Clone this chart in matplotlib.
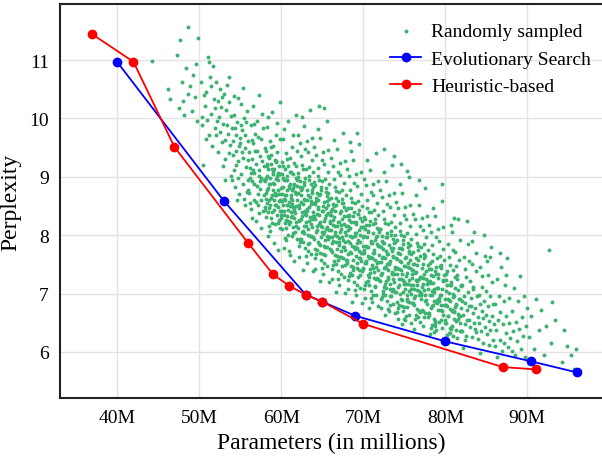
import numpy as np
import matplotlib
matplotlib.use("Agg")
import matplotlib.pyplot as plt

plt.rcParams['font.family'] = ['Liberation Serif', 'DejaVu Serif']

# 搜索结果（参数量 M, 困惑度）
evo_params = [40, 53, 63, 65, 69, 80, 90.4, 96]
evo_ppl = [10.97, 8.59, 6.98, 6.86, 6.62, 6.18, 5.84, 5.65]

heur_params = [37, 42, 47, 56, 59, 61, 63, 65, 70, 87, 91]
heur_ppl = [11.44, 10.97, 9.51, 7.86, 7.33, 7.13, 6.98, 6.86, 6.48, 5.74, 5.70]

# 随机采样的模型
sampled_pts = [
    (44.3,10.98),(46.2,10.50),(46.5,10.33),(47.3,11.08),(47.7,11.34),(47.9,10.62),(47.6,10.18),(48.0,10.30),
    (48.7,11.57),(48.4,10.86),(48.9,10.55),(49.1,10.12),(48.6,10.41),(49.3,10.74),(49.6,10.93),(49.8,9.95),(49.5,10.36),(48.2,10.05),(49.9,11.38),
    (50.2,10.62),(50.5,9.21),(50.4,9.88),(50.7,10.21),(50.9,10.45),(51.1,11.05),(51.2,10.97),(50.8,9.64),(51.4,10.08),(51.6,9.52),
    (51.3,10.71),(51.8,10.34),(51.9,9.83),(51.5,10.55),(50.3,10.03),(51.7,10.89),(50.6,10.4),(51.0,9.98),(51.95,10.18),(51.2,9.71),
    (52.1,10.62),(52.3,9.42),(52.4,10.02),(52.6,9.77),(52.8,10.36),(52.2,9.95),(52.5,10.51),(52.9,9.18),(53.1,9.63),(53.3,10.15),
    (53.4,9.88),(53.6,10.71),(53.2,9.31),(53.8,9.55),(53.7,10.28),(53.9,9.02),(52.7,10.19),(53.5,9.74),(52.95,9.9),(53.05,10.42),
    (53.65,9.41),(52.35,10.3),(53.85,10.04),(53.15,8.95),(52.75,9.6),(53.45,10.58),(52.05,9.72),(53.95,9.84),
    (54.1,9.61),(54.2,9.12),(54.3,10.05),(54.4,8.83),(54.5,9.44),(54.6,9.93),(54.7,9.27),(54.8,10.35),(54.9,8.71),(55.0,9.58),
    (55.1,9.05),(55.2,9.8),(55.3,10.52),(55.4,9.33),(55.5,8.62),(55.6,9.71),(55.7,9.16),(55.8,10.12),(55.9,8.95),(54.15,9.38),
    (54.35,9.84),(54.55,9.2),(54.75,8.98),(54.95,9.67),(55.15,10.24),(55.35,8.88),(55.55,9.49),(55.75,9.94),(55.95,9.29),(54.25,10.38),
    (54.65,8.6),(55.05,9.88),(55.45,10.01),(55.85,8.74),(54.45,9.71),(55.25,9.42),(55.65,8.51),(54.85,9.53),(55.9,9.62),(54.05,8.95),
    (56.05,9.42),(56.1,8.72),(56.2,9.15),(56.3,9.88),(56.35,8.45),(56.4,9.31),(56.5,8.93),(56.55,10.21),(56.6,9.58),(56.7,8.61),
    (56.75,9.07),(56.8,9.73),(56.9,8.24),(56.95,9.22),(57.0,8.85),(57.05,9.96),(57.1,9.44),(57.2,8.52),(57.25,9.11),(57.3,10.4),
    (57.4,8.79),(57.45,9.36),(57.5,8.12),(57.55,9.65),(57.6,8.98),(57.7,9.27),(57.75,8.41),(57.8,9.83),(57.9,8.69),(57.95,9.18),
    (56.15,8.98),(56.25,8.55),(56.45,9.63),(56.65,8.88),(56.85,9.45),(57.15,8.7),(57.35,9.02),(57.65,10.08),(57.85,8.95),(56.45,8.3),
    (57.25,8.38),(56.75,9.9),(57.55,8.6),(56.0,8.78),(57.98,9.5),(56.6,9.12),(57.45,8.92),(56.95,8.56),(57.15,9.68),(56.35,9.07),
    (58.05,8.93),(58.1,9.45),(58.15,8.31),(58.2,8.72),(58.25,9.86),(58.3,8.55),(58.35,9.14),(58.4,7.98),(58.45,8.81),(58.5,9.33),
    (58.55,8.46),(58.6,9.61),(58.65,8.07),(58.7,8.98),(58.75,9.22),(58.8,8.63),(58.85,10.11),(58.9,8.39),(58.95,9.05),(59.0,8.77),
    (59.05,9.52),(59.1,7.86),(59.15,8.88),(59.2,9.28),(59.25,8.51),(59.3,8.19),(59.35,9.71),(59.4,8.69),(59.45,9.01),(59.5,8.34),
    (59.55,9.43),(59.6,7.75),(59.65,8.94),(59.7,8.58),(59.75,9.18),(59.8,10.28),(59.85,8.42),(59.9,9.64),(59.95,8.81),(58.12,8.62),
    (58.28,9.18),(58.42,8.4),(58.58,8.88),(58.72,9.51),(58.88,8.21),(59.02,9.08),(59.18,8.6),(59.32,8.97),(59.48,9.92),(59.62,8.49),
    (59.78,8.7),(59.92,9.05),(58.22,9.02),(58.52,8.15),(58.82,9.38),(59.12,8.43),(59.42,9.25),(59.72,8.26),(58.38,10.02),(59.58,9.07),
    (58.68,8.52),(59.28,8.73),(58.02,8.49),(59.88,8.13),
    (60.05,8.71),(60.1,9.25),(60.15,8.11),(60.2,8.52),(60.25,9.64),(60.3,8.35),(60.35,8.94),(60.4,7.78),(60.45,8.61),(60.5,9.13),
    (60.55,8.26),(60.6,9.41),(60.65,7.91),(60.7,8.78),(60.75,9.02),(60.8,8.43),(60.85,9.95),(60.9,8.19),(60.95,8.85),(61.0,8.57),
    (61.05,9.32),(61.1,7.66),(61.15,8.68),(61.2,9.08),(61.25,8.31),(61.3,7.99),(61.35,9.51),(61.4,8.49),(61.45,8.81),(61.5,8.14),
    (61.55,9.23),(61.6,7.55),(61.65,8.74),(61.7,8.38),(61.75,8.98),(61.8,10.06),(61.85,8.22),(61.9,9.44),(61.95,8.61),(60.12,8.42),
    (60.28,8.98),(60.42,8.2),(60.58,8.68),(60.72,9.31),(60.88,8.01),(61.02,8.88),(61.18,8.4),(61.32,8.77),(61.48,9.72),(61.62,8.29),
    (61.78,8.5),(61.92,8.85),(60.22,8.82),(60.52,7.95),(60.82,9.18),(61.12,8.23),(61.42,9.05),(61.72,8.06),(60.38,9.82),(61.58,8.87),
    (60.68,8.32),(61.28,8.53),(60.02,8.29),(61.88,7.93),(60.62,8.95),(61.22,8.64),(60.92,7.72),(61.52,8.45),(60.32,8.62),(61.82,9.18),
    (62.03,8.12),(62.08,9.06),(62.14,8.47),(62.19,7.62),(62.24,8.83),(62.31,9.58),(62.36,8.28),(62.41,7.94),(62.47,8.69),(62.52,9.21),
    (62.58,8.05),(62.63,8.54),(62.69,7.41),(62.74,8.91),(62.79,9.87),(62.85,8.36),(62.9,7.78),(62.96,8.61),(63.02,9.13),(63.07,8.22),
    (63.12,7.53),(63.18,8.77),(63.23,9.42),(63.29,8.01),(63.34,8.49),(63.4,7.86),(63.45,9.01),(63.5,8.31),(63.56,10.15),(63.61,7.67),
    (63.67,8.58),(63.72,9.29),(63.78,8.14),(63.83,7.39),(63.89,8.82),(63.94,8.4),(62.11,8.73),(62.27,7.88),(62.44,9.35),(62.6,8.39),
    (62.77,8.03),(62.93,9.48),(63.1,8.61),(63.26,7.72),(63.43,8.94),(63.59,8.19),(63.76,9.66),(63.92,7.97),(62.06,9.71),(62.38,8.56),
    (62.71,7.89),(63.04,8.34),(63.37,9.17),(63.7,8.72),(62.22,8.26),(62.55,8.81),(62.88,8.98),(63.21,8.44),(63.54,7.99),(63.87,9.08),
    (62.16,7.81),(62.49,10.02),(62.82,8.16),(63.15,9.62),(63.48,8.66),(63.81,8.28),(62.33,8.92),(62.66,9.14),(62.99,7.64),(63.32,8.11),
    (63.65,8.87),(63.97,8.55),
    (64.02,7.93),(64.07,8.86),(64.13,8.27),(64.18,7.42),(64.23,8.63),(64.3,9.38),(64.35,8.08),(64.4,7.74),(64.46,8.49),(64.51,9.01),
    (64.57,7.85),(64.62,8.34),(64.68,7.21),(64.73,8.71),(64.78,9.67),(64.84,8.16),(64.89,7.58),(64.95,8.41),(65.01,8.93),(65.06,8.02),
    (65.11,7.33),(65.17,8.57),(65.22,9.22),(65.28,7.81),(65.33,8.29),(65.39,7.66),(65.44,8.81),(65.49,8.11),(65.55,9.95),(65.6,7.47),
    (65.66,8.38),(65.71,9.09),(65.77,7.94),(65.82,7.19),(65.88,8.62),(65.93,8.2),(64.1,8.53),(64.26,7.68),(64.43,9.15),(64.59,8.19),
    (64.76,7.83),(64.92,9.28),(65.09,8.41),(65.25,7.52),(65.42,8.74),(65.58,7.99),(65.75,9.46),(65.91,7.77),(64.05,9.51),(64.37,8.36),
    (64.7,7.69),(65.03,8.14),(65.36,8.97),(65.69,8.52),(64.21,8.06),(64.54,8.61),(64.87,8.78),(65.2,8.24),(65.53,7.79),(65.86,8.88),
    (64.15,7.61),(64.48,9.82),(64.81,7.96),(65.14,9.42),(65.47,8.46),(65.8,8.08),(64.32,8.72),(64.65,8.94),(64.98,7.44),(65.31,7.91),
    (65.64,8.67),(65.96,8.35),(64.6,10.22),(65.2,10.18),
    (66.02,7.75),(66.07,8.64),(66.13,8.09),(66.18,7.25),(66.23,8.44),(66.3,9.19),(66.35,7.9),(66.4,7.55),(66.46,8.31),(66.51,8.82),
    (66.57,7.66),(66.62,8.15),(66.68,7.02),(66.73,8.52),(66.78,9.47),(66.84,7.98),(66.89,7.39),(66.95,8.22),(67.01,8.74),(67.06,7.83),
    (67.11,7.14),(67.17,8.38),(67.22,9.03),(67.28,7.62),(67.33,8.1),(67.39,7.47),(67.44,8.62),(67.49,7.92),(67.55,9.75),(67.6,7.28),
    (67.66,8.19),(67.71,8.9),(67.77,7.75),(67.82,7.01),(67.88,8.43),(67.93,8.01),(66.1,8.34),(66.26,7.49),(66.43,8.96),(66.59,8.0),
    (66.76,7.64),(66.92,9.09),(67.09,8.22),(67.25,7.33),(67.42,8.55),(67.58,7.8),(67.75,9.27),(67.91,7.58),(66.05,9.32),(66.37,8.17),
    (66.7,7.5),(67.03,7.95),(67.36,8.78),(67.69,8.33),(66.21,7.87),(66.54,8.42),(66.87,8.59),(67.2,8.05),(67.53,7.6),(67.86,8.69),
    (66.15,7.42),(66.48,9.63),(66.81,7.77),(67.14,9.23),(67.47,8.27),(67.8,7.89),(66.32,8.53),(66.65,8.75),(66.98,7.25),(67.31,7.72),
    (67.64,8.48),(67.96,8.16),
    (68.03,7.58),(68.09,8.47),(68.12,7.9),(68.19,7.08),(68.25,8.26),(68.29,9.02),(68.34,7.71),(68.41,7.36),(68.45,8.12),(68.52,8.63),
    (68.56,7.47),(68.61,7.96),(68.67,6.86),(68.72,8.33),(68.79,9.28),(68.83,7.79),(68.91,7.2),(68.94,8.03),(69.0,8.55),(69.07,7.64),
    (69.1,6.97),(69.16,8.19),(69.23,8.84),(69.27,7.43),(69.32,7.91),(69.38,7.28),(69.43,8.43),(69.5,7.73),(69.54,9.56),(69.61,7.09),
    (69.65,8.0),(69.7,8.71),(69.76,7.56),(69.83,6.83),(69.87,8.24),(69.92,7.82),(68.11,8.15),(68.27,7.3),(68.42,8.77),(68.6,7.81),
    (68.75,7.45),(68.93,8.9),(69.08,8.03),(69.26,7.14),(69.41,8.36),(69.59,7.61),(69.74,9.08),(69.9,7.39),(68.06,9.13),(68.38,7.98),
    (68.69,7.31),(69.02,7.76),(69.35,8.59),(69.68,8.14),(68.2,7.68),(68.53,8.23),(68.86,8.4),(69.19,7.86),(69.52,7.41),(69.85,8.5),
    (68.16,7.23),(68.49,9.44),(68.8,7.58),(69.13,9.04),(69.46,8.08),(69.79,7.7),(68.31,8.34),(68.64,8.56),(68.97,7.06),(69.3,7.53),
    (69.63,8.29),(69.95,7.97),(68.4,9.6),(69.2,9.75),
    (70.02,7.42),(70.08,8.31),(70.13,7.74),(70.18,6.93),(70.24,8.1),(70.3,8.86),(70.35,7.55),(70.4,7.2),(70.46,7.96),(70.51,8.47),
    (70.57,7.31),(70.62,7.8),(70.68,6.76),(70.73,8.17),(70.78,9.12),(70.84,7.63),(70.89,7.04),(70.95,7.87),(71.01,8.39),(71.06,7.48),
    (71.11,6.86),(71.17,8.03),(71.22,8.68),(71.28,7.27),(71.33,7.75),(71.39,7.12),(71.44,8.27),(71.49,7.57),(71.55,9.4),(71.6,6.98),
    (71.66,7.84),(71.71,8.55),(71.77,7.4),(71.82,6.79),(71.88,8.08),(71.93,7.66),(70.1,7.99),(70.26,7.14),(70.43,8.61),(70.59,7.65),
    (70.76,7.29),(70.92,8.74),(71.09,7.87),(71.25,6.98),(71.42,8.2),(71.58,7.45),(71.75,8.92),(71.91,7.23),(70.05,8.97),(70.37,7.82),
    (70.7,7.15),(71.03,7.6),(71.36,8.43),(71.69,7.98),(70.21,7.52),(70.54,8.07),(70.87,8.24),(71.2,7.7),(71.53,7.25),(71.86,8.34),
    (70.15,7.07),(70.48,9.28),(70.81,7.42),(71.14,8.88),(71.47,7.92),(71.8,7.54),(70.32,8.18),(70.65,8.4),(70.98,6.92),(71.31,7.37),
    (71.64,8.13),(71.96,7.81),
    (72.03,7.22),(72.09,8.11),(72.12,7.54),(72.19,6.76),(72.25,7.9),(72.29,8.66),(72.34,7.35),(72.41,7.0),(72.45,7.76),(72.52,8.27),
    (72.56,7.11),(72.61,7.6),(72.67,6.63),(72.72,7.97),(72.79,8.92),(72.83,7.43),(72.91,6.88),(72.94,7.67),(73.0,8.19),(73.07,7.28),
    (73.1,6.7),(73.16,7.83),(73.23,8.48),(73.27,7.07),(73.32,7.55),(73.38,6.95),(73.43,8.07),(73.5,7.37),(73.54,9.2),(73.61,6.82),
    (73.65,7.64),(73.7,8.35),(73.76,7.2),(73.83,6.66),(73.87,7.88),(73.92,7.46),(72.11,7.79),(72.27,6.94),(72.42,8.41),(72.6,7.45),
    (72.75,7.09),(72.93,8.54),(73.08,7.67),(73.26,6.8),(73.41,8.0),(73.59,7.25),(73.74,8.72),(73.9,7.03),(72.06,8.77),(72.38,7.62),
    (72.69,6.97),(73.02,7.4),(73.35,8.23),(73.68,7.78),(72.2,7.32),(72.53,7.87),(72.86,8.04),(73.19,7.5),(73.52,7.05),(73.85,8.14),
    (72.16,6.9),(72.49,9.08),(72.8,7.22),(73.13,8.68),(73.46,7.72),(73.79,7.34),(72.31,7.98),(72.64,8.2),(72.97,6.74),(73.3,7.17),
    (73.63,7.93),(73.95,7.61),(72.5,9.48),(73.8,9.35),
    (74.02,7.02),(74.08,7.91),(74.13,7.34),(74.18,6.57),(74.24,7.7),(74.3,8.46),(74.35,7.15),(74.4,6.81),(74.46,7.56),(74.51,8.07),
    (74.57,6.91),(74.62,7.4),(74.68,6.48),(74.73,7.77),(74.78,8.72),(74.84,7.23),(74.89,6.7),(74.95,7.47),(75.01,7.99),(75.06,7.08),
    (75.11,6.54),(75.17,7.63),(75.22,8.28),(75.28,6.88),(75.33,7.35),(75.39,6.77),(75.44,7.87),(75.49,7.17),(75.55,9.0),(75.6,6.63),
    (75.66,7.44),(75.71,8.15),(75.77,7.0),(75.82,6.5),(75.88,7.68),(75.93,7.26),(74.1,7.59),(74.26,6.75),(74.43,8.21),(74.59,7.25),
    (74.76,6.89),(74.92,8.34),(75.09,7.47),(75.25,6.61),(75.42,7.8),(75.58,7.05),(75.75,8.52),(75.91,6.84),(74.05,8.57),(74.37,7.42),
    (74.7,6.78),(75.03,7.2),(75.36,8.03),(75.69,7.58),(74.21,7.12),(74.54,7.67),(74.87,7.84),(75.2,7.3),(75.53,6.86),(75.86,7.94),
    (74.15,6.68),(74.48,8.88),(74.81,7.02),(75.14,8.48),(75.47,7.52),(75.8,7.14),(74.32,7.78),(74.65,8.0),(74.98,6.56),(75.31,6.97),
    (75.64,7.73),(75.96,7.41),(74.6,9.22),(75.3,9.1),
    (76.03,6.84),(76.09,7.71),(76.12,7.15),(76.19,6.4),(76.25,7.5),(76.29,8.27),(76.34,6.96),(76.41,6.63),(76.45,7.37),(76.52,7.87),
    (76.56,6.73),(76.61,7.21),(76.72,7.58),(76.79,8.52),(76.83,7.04),(76.91,6.52),(76.94,7.28),(77.0,7.79),(77.07,6.9),(77.16,7.44),
    (77.23,8.09),(77.27,6.7),(77.32,7.16),(77.38,6.59),(77.43,7.68),(77.5,6.98),(77.54,8.8),(77.65,7.25),(77.7,7.96),(77.76,6.82),
    (77.87,7.49),(77.92,7.07),(76.11,7.4),(76.27,6.57),(76.42,8.02),(76.6,7.06),(76.75,6.7),(76.93,8.15),(77.08,7.28),(77.41,7.61),
    (77.59,6.87),(77.74,8.33),(77.9,6.66),(76.06,8.37),(76.38,7.23),(76.69,6.6),(77.02,7.01),(77.35,7.84),(77.68,7.39),(76.2,6.93),
    (76.53,7.48),(76.86,7.65),(77.19,7.11),(77.52,6.67),(77.85,7.75),(76.49,8.68),(77.13,8.29),(77.46,7.33),(76.64,7.81),(77.3,6.45),
    (77.95,7.22),(76.8,8.95),
    (78.02,6.66),(78.08,7.52),(78.13,6.97),(78.18,6.3),(78.24,7.32),(78.3,8.06),(78.35,6.78),(78.4,6.46),(78.46,7.18),(78.51,7.68),
    (78.57,6.56),(78.62,7.03),(78.73,7.39),(78.78,8.32),(78.84,6.86),(78.89,6.38),(78.95,7.1),(79.01,7.6),(79.06,6.72),(79.17,7.26),
    (79.22,7.9),(79.28,6.52),(79.33,6.98),(79.44,7.49),(79.49,6.8),(79.55,8.58),(79.66,7.07),(79.71,7.77),(79.77,6.64),(79.88,7.31),
    (79.93,6.9),(78.1,7.22),(78.26,6.41),(78.43,7.83),(78.59,6.88),(78.76,6.53),(78.92,7.96),(79.09,7.1),(79.42,7.43),(79.58,6.7),
    (79.75,8.14),(79.91,6.49),(78.05,8.18),(78.37,7.05),(78.7,6.44),(79.03,6.84),(79.36,7.65),(79.69,7.21),(78.21,6.75),(78.54,7.3),
    (78.87,7.46),(79.2,6.93),(79.53,6.55),(79.86,7.57),(78.48,8.47),(79.14,8.1),(79.6,8.88),(78.65,6.34),
    (80.03,6.5),(80.09,7.33),(80.12,6.8),(80.19,6.18),(80.25,7.14),(80.29,7.85),(80.34,6.62),(80.41,6.32),(80.45,7.01),(80.52,7.48),
    (80.56,6.41),(80.61,6.87),(80.72,7.2),(80.79,8.05),(80.83,6.7),(80.91,6.27),(80.94,6.94),(81.0,7.41),(81.07,6.57),(81.16,7.09),
    (81.23,7.71),(81.27,6.38),(81.32,6.82),(81.43,7.31),(81.5,6.65),(81.54,8.28),(81.65,6.91),(81.7,7.58),(81.76,6.49),(81.87,7.13),
    (81.92,6.75),(80.11,7.05),(80.27,6.29),(80.42,7.62),(80.6,6.73),(80.75,6.4),(80.93,7.75),(81.08,6.95),(81.41,7.25),(81.59,6.56),
    (81.74,7.92),(81.9,6.36),(80.38,6.9),(81.02,6.68),(81.35,7.47),(80.53,7.15),(81.19,6.77),(81.83,6.61),(80.66,8.18),(81.12,8.3),
    (82.02,6.35),(82.08,7.14),(82.13,6.63),(82.18,6.06),(82.24,6.96),(82.3,7.62),(82.35,6.47),(82.4,6.2),(82.46,6.84),(82.51,7.28),
    (82.57,6.27),(82.62,6.71),(82.73,7.02),(82.78,7.84),(82.84,6.55),(82.95,6.78),(83.01,7.21),(83.06,6.42),(83.17,6.92),(83.22,7.5),
    (83.28,6.25),(83.33,6.66),(83.44,7.12),(83.49,6.5),(83.55,8.05),(83.66,6.75),(83.71,7.38),(83.77,6.34),(83.88,6.96),(83.93,6.6),
    (82.1,6.88),(82.43,7.42),(82.59,6.55),(82.92,7.55),(83.09,6.79),(83.42,7.07),(83.59,6.4),(83.75,7.7),(82.65,8.25),(83.3,7.9),
    (84.03,6.22),(84.09,6.98),(84.12,6.5),(84.19,5.98),(84.25,6.82),(84.29,7.45),(84.34,6.35),(84.45,6.7),(84.52,7.12),(84.56,6.15),
    (84.61,6.58),(84.72,6.87),(84.79,7.64),(84.83,6.42),(84.94,6.64),(85.0,7.05),(85.07,6.3),(85.16,6.78),(85.23,7.32),(85.27,6.12),
    (85.33,6.53),(85.43,6.96),(85.5,6.38),(85.54,7.8),(85.65,6.61),(85.7,7.2),(85.76,6.21),(85.87,6.82),(85.92,6.47),(84.42,7.3),
    (85.1,7.55),(84.7,8.0),(85.4,7.62),
    (86.05,6.1),(86.12,6.82),(86.21,6.38),(86.3,7.25),(86.36,5.92),(86.44,6.55),(86.55,6.95),(86.61,6.21),(86.73,6.68),(86.82,7.45),
    (86.9,6.02),(87.02,6.47),(87.1,6.88),(87.18,6.16),(87.27,7.15),(87.35,6.32),(87.46,6.62),(87.55,7.6),(87.62,6.08),(87.73,6.5),
    (87.81,6.92),(87.9,6.24),(86.68,7.7),(87.42,7.32),
    (88.08,6.02),(88.15,6.7),(88.27,6.35),(88.38,7.1),(88.46,5.95),(88.6,6.52),(88.71,6.18),(88.85,6.88),(88.96,6.4),(89.1,7.3),
    (89.2,6.05),(89.33,6.6),(89.45,6.28),(89.6,6.95),(89.72,5.92),(89.85,6.45),(89.95,6.75),
    (90.2,6.25),(90.5,6.62),(90.8,6.05),(91.1,6.9),(91.4,6.38),(91.7,6.72),(92.0,5.95),(92.3,6.45),(92.7,7.75),(92.9,6.15),
    (93.4,6.55),(94.2,5.82),(94.8,6.1),(95.3,5.95),(95.7,5.7),(95.9,6.05),(94.5,6.38),(93.0,6.85),
]

# 云团中心最密的部分（补充读取）
sampled_core_pts = [
    (58.07,8.43),(58.18,8.98),(58.26,9.22),(58.33,8.77),(58.45,9.36),(58.52,8.6),(58.64,8.87),(58.71,8.3),(58.83,9.13),(58.94,8.69),
    (59.04,8.89),(59.13,9.13),(59.22,8.68),(59.36,9.27),(59.41,8.51),(59.57,8.78),(59.63,8.21),(59.74,9.04),(59.86,8.6),(59.97,8.34),
    (60.06,9.04),(60.16,8.59),(60.24,9.18),(60.37,8.42),(60.43,8.69),(60.56,8.12),(60.67,8.95),(60.74,8.51),(60.86,8.25),(60.97,8.8),
    (61.03,8.5),(61.12,9.09),(61.27,8.33),(61.34,8.6),(61.46,8.03),(61.53,8.86),(61.61,8.42),(61.77,8.16),(61.84,8.71),(61.96,8.95),
    (62.04,9.0),(62.17,8.24),(62.23,8.51),(62.35,7.94),(62.46,8.77),(62.57,8.33),(62.62,8.07),(62.76,8.62),(62.84,8.86),(62.93,8.41),
    (63.06,8.15),(63.14,8.42),(63.25,7.85),(63.33,8.68),(63.44,8.24),(63.58,7.98),(63.66,8.53),(63.74,8.77),(63.85,8.32),(63.95,8.91),
    (64.03,8.33),(64.16,7.76),(64.24,8.59),(64.36,8.15),(64.44,7.89),(64.53,8.44),(64.67,8.68),(64.74,8.23),(64.82,8.82),(64.97,8.06),
    (65.05,7.67),(65.13,8.5),(65.26,8.06),(65.37,7.8),(65.43,8.35),(65.54,8.59),(65.63,8.14),(65.76,8.73),(65.84,7.97),(65.93,8.24),
    (66.04,8.41),(66.16,7.97),(66.22,7.71),(66.33,8.26),(66.47,8.5),(66.55,8.05),(66.66,8.64),(66.74,7.88),(66.85,8.15),(66.94,7.58),
    (67.07,7.88),(67.15,7.62),(67.24,8.17),(67.34,8.41),(67.46,7.96),(67.57,8.55),(67.63,7.79),(67.76,8.06),(67.83,7.49),(67.97,8.32),
    (68.02,7.53),(68.14,8.08),(68.23,8.32),(68.36,7.87),(68.47,8.46),(68.54,7.7),(68.65,7.97),(68.73,7.4),(68.84,8.23),(68.96,7.79),
    (69.05,7.99),(69.17,8.23),(69.25,7.78),(69.34,8.37),(69.43,7.61),(69.56,7.88),(69.64,7.31),(69.77,8.14),(69.86,7.7),(69.94,7.44),
    (70.03,8.14),(70.14,7.69),(70.27,8.28),(70.33,7.52),(70.44,7.79),(70.56,7.22),(70.63,8.05),(70.75,7.61),(70.86,7.35),(70.97,7.9),
    (71.04,7.6),(71.16,8.19),(71.23,7.43),(71.35,7.7),(71.46,7.13),(71.54,7.96),(71.67,7.52),(71.73,7.26),(71.85,7.81),(71.94,8.05),
    (72.07,8.1),(72.13,7.34),(72.26,7.61),(72.37,7.04),(72.44,7.87),(72.55,7.43),(72.66,7.17),(72.74,7.72),(72.87,7.96),(72.95,7.51),
    (73.04,7.25),(73.17,7.52),(73.24,6.95),(73.36,7.78),(73.45,7.34),(73.57,7.08),(73.64,7.63),(73.75,7.87),(73.86,7.42),(73.93,8.01),
    (74.06,7.43),(74.14,6.86),(74.27,7.69),(74.34,7.25),(74.45,6.99),(74.56,7.54),(74.63,7.78),(74.77,7.33),(74.85,7.92),(74.96,7.16),
    (75.02,6.77),(75.15,7.6),(75.23,7.16),(75.37,6.9),(75.46,7.45),(75.57,7.69),(75.62,7.24),(75.74,7.83),(75.87,7.07),(75.95,7.34),
    (76.05,7.51),(76.13,7.07),(76.24,6.81),(76.36,7.36),(76.47,7.6),(76.54,7.15),(76.68,7.74),(76.76,6.98),(76.85,7.25),(76.97,6.68),
    (77.04,6.98),(77.15,6.72),(77.26,7.27),(77.33,7.51),(77.45,7.06),(77.56,7.65),(77.64,6.89),(77.77,7.16),(77.84,6.59),(77.96,7.42),
    (78.06,6.63),(78.16,7.18),(78.25,7.42),(78.34,6.97),(78.44,7.56),(78.55,6.8),(78.67,7.07),(78.74,6.5),(78.83,7.33),(78.94,6.89),
    (79.03,7.09),(79.13,7.33),(79.24,6.88),(79.37,7.47),(79.46,6.71),(79.54,6.98),(79.65,6.41),(79.76,7.24),(79.85,6.8),(79.97,6.54),
    (80.04,7.24),(80.17,6.79),(80.23,7.38),(80.36,6.62),(80.47,6.89),(80.55,6.32),(80.64,7.15),(80.77,6.71),(80.85,6.45),(80.96,7.0),
    (81.05,6.7),(81.14,7.29),(81.26,6.53),(81.33,6.8),(81.45,6.23),(81.56,7.06),(81.67,6.62),(81.75,6.36),(81.84,6.91),(81.95,7.15),
]

sampled_x, sampled_y = np.array(sampled_pts + sampled_core_pts).T

x_ticks = [40, 50, 60, 70, 80, 90]
x_tick_labels = ['40M', '50M', '60M', '70M', '80M', '90M']
y_ticks = [6, 7, 8, 9, 10, 11]

fig = plt.figure(figsize=(6.02, 4.6), dpi=100)
ax = fig.add_axes([60 / 602, 61 / 460, 542 / 602, 394 / 460])

ax.scatter(sampled_x, sampled_y, s=8, color='#3cb371', linewidths=0,
           label='Randomly sampled', zorder=2)
ax.plot(evo_params, evo_ppl, color='blue', marker='o', markersize=6,
        linewidth=1.3, label='Evolutionary Search', zorder=3)
ax.plot(heur_params, heur_ppl, color='red', marker='o', markersize=6,
        linewidth=1.3, label='Heuristic-based', zorder=4)

ax.set_xlim(33.05, 99.1)
ax.set_ylim(5.21, 11.96)
ax.set_xticks(x_ticks)
ax.set_xticklabels(x_tick_labels)
ax.set_yticks(y_ticks)
ax.tick_params(length=0, labelsize=14, pad=8)
ax.grid(True, color='#e3e3e3', linewidth=1)
ax.set_axisbelow(True)
ax.spines['right'].set_visible(False)
for s in ['left', 'bottom', 'top']:
    ax.spines[s].set_linewidth(1.5)
    ax.spines[s].set_color('#222222')

ax.set_xlabel('Parameters (in millions)', fontsize=17, labelpad=4)
ax.set_ylabel('Perplexity', fontsize=17, labelpad=6)

leg = ax.legend(loc='upper right', bbox_to_anchor=(1.012, 0.997), frameon=False,
                fontsize=14, markerscale=1, handlelength=1.6,
                handletextpad=0.5, labelspacing=0.5)

fig.savefig('out.png', dpi=100)
